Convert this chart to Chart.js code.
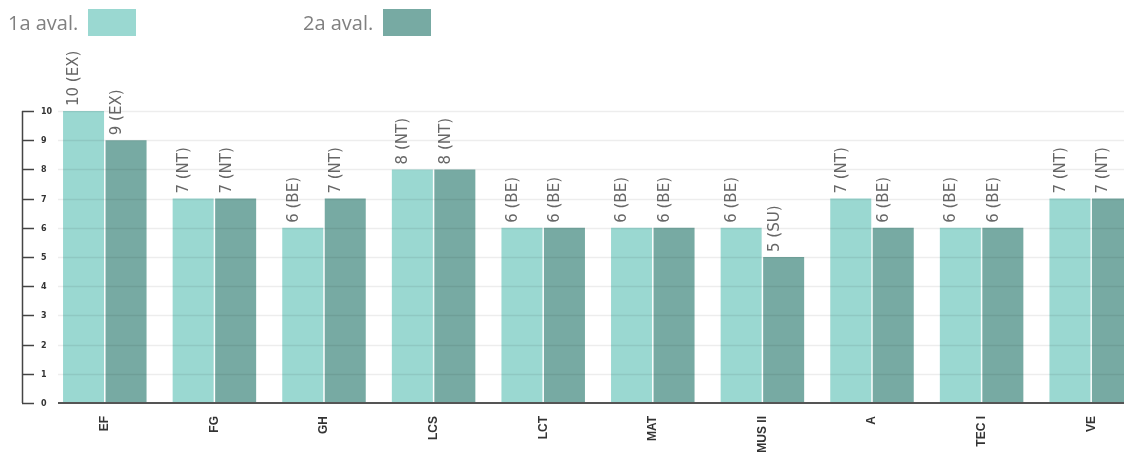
<!DOCTYPE html>
<html>
<head>
<meta charset="utf-8">
<script src="https://cdn.jsdelivr.net/npm/chart.js@4.4.1/dist/chart.umd.min.js"></script>
<style>
  html, body { margin: 0; padding: 0; background: #fff; overflow: hidden; width: 1124px; height: 460px; }
  #wrap { position: absolute; left: 0; top: 0; width: 1146px; height: 460px; }
  #legend { position: absolute; left: 0; top: 0; width: 1124px; height: 50px; font-family: "Open Sans", sans-serif; font-size: 20px; color: #808080; }
  .item { position: absolute; top: 9px; height: 27px; display: flex; align-items: center; }
  .item .box { display: inline-block; width: 48px; height: 27px; margin-left: 10px; }
</style>
</head>
<body>
<div id="wrap"><canvas id="c" width="1146" height="460"></canvas></div>
<div id="legend"></div>
<script>
const categories = ['EF', 'FG', 'GH', 'LCS', 'LCT', 'MAT', 'MUS II', 'A', 'TEC I', 'VE'];
const seriesLabels = ['1a aval.', '2a aval.'];
const aval1 = [10, 7, 6, 8, 6, 6, 6, 7, 6, 7];
const aval2 = [9, 7, 7, 8, 6, 6, 5, 6, 6, 7];
const grades1 = ['EX', 'NT', 'BE', 'NT', 'BE', 'BE', 'BE', 'NT', 'BE', 'NT'];
const grades2 = ['EX', 'NT', 'NT', 'NT', 'BE', 'BE', 'SU', 'BE', 'BE', 'NT'];
const yTicks = [0, 1, 2, 3, 4, 5, 6, 7, 8, 9, 10];

const colors = ['#9ad8d1', '#77aaa3'];
const grades = [grades1, grades2];

// HTML legend (text followed by swatch)
const legendPos = [8, 303];
const legend = document.getElementById('legend');
seriesLabels.forEach((lab, i) => {
  const d = document.createElement('div');
  d.className = 'item';
  d.style.left = legendPos[i] + 'px';
  const t = document.createElement('span');
  t.textContent = lab;
  const b = document.createElement('span');
  b.className = 'box';
  b.style.background = colors[i];
  d.appendChild(t); d.appendChild(b);
  legend.appendChild(d);
});

const decor = {
  id: 'decor',
  afterDatasetsDraw(chart) {
    const ctx = chart.ctx;
    const y = chart.scales.y;
    ctx.save();
    // gridlines (drawn over bars, faint)
    ctx.strokeStyle = 'rgba(0,0,0,0.07)';
    ctx.lineWidth = 1.5;
    yTicks.forEach(v => {
      if (v === 0) return;
      const py = Math.round(y.getPixelForValue(v)) + 0.5;
      ctx.beginPath(); ctx.moveTo(58, py); ctx.lineTo(chart.width, py); ctx.stroke();
    });
    // baseline
    const by = y.getPixelForValue(0);
    ctx.strokeStyle = '#555';
    ctx.lineWidth = 2;
    ctx.beginPath(); ctx.moveTo(58, by); ctx.lineTo(chart.width, by); ctx.stroke();
    // bracket axis
    ctx.strokeStyle = '#444';
    ctx.lineWidth = 1.5;
    const top = y.getPixelForValue(yTicks[yTicks.length - 1]);
    ctx.beginPath(); ctx.moveTo(22.5, top); ctx.lineTo(22.5, by); ctx.stroke();
    ctx.fillStyle = '#333';
    ctx.font = 'bold 8px "DejaVu Sans"';
    ctx.textAlign = 'left';
    ctx.textBaseline = 'middle';
    yTicks.forEach(v => {
      const py = Math.round(y.getPixelForValue(v)) + 0.5;
      ctx.beginPath(); ctx.moveTo(22, py); ctx.lineTo(34, py); ctx.stroke();
      ctx.fillText(String(v), 41, py);
    });
    // value labels
    ctx.fillStyle = '#666';
    ctx.font = '15px "DejaVu Sans"';
    ctx.textBaseline = 'top';
    ctx.textAlign = 'left';
    chart.data.datasets.forEach((ds, di) => {
      const meta = chart.getDatasetMeta(di);
      meta.data.forEach((bar, i) => {
        const left = bar.x - bar.width / 2 + 4;
        ctx.save();
        ctx.translate(left, bar.y - 5);
        ctx.rotate(-Math.PI / 2);
        ctx.fillText(ds.data[i] + ' (' + grades[di][i] + ')', 0, 0);
        ctx.restore();
      });
    });
    ctx.restore();
  }
};

new Chart(document.getElementById('c'), {
  type: 'bar',
  data: {
    labels: categories,
    datasets: [
      { label: seriesLabels[0], data: aval1, backgroundColor: colors[0], categoryPercentage: 0.7755, barPercentage: 0.965 },
      { label: seriesLabels[1], data: aval2, backgroundColor: colors[1], categoryPercentage: 0.7755, barPercentage: 0.965 }
    ]
  },
  options: {
    responsive: false,
    animation: false,
    devicePixelRatio: 1,
    layout: { padding: { left: 50, top: 111, right: 0, bottom: 0 } },
    plugins: { legend: { display: false }, tooltip: { enabled: false } },
    scales: {
      x: {
        grid: { display: false, drawTicks: false },
        border: { display: false },
        ticks: {
          minRotation: 90, maxRotation: 90, padding: 13,
          color: '#333',
          font: { family: '"Liberation Sans"', size: 12, weight: 'bold' }
        },
        afterFit: s => { s.height = 57; }
      },
      y: {
        min: 0, max: 10,
        grid: { display: false },
        border: { display: false },
        ticks: { display: false, stepSize: 1 },
        afterFit: s => { s.width = 0; }
      }
    }
  },
  plugins: [decor]
});
</script>
</body>
</html>
